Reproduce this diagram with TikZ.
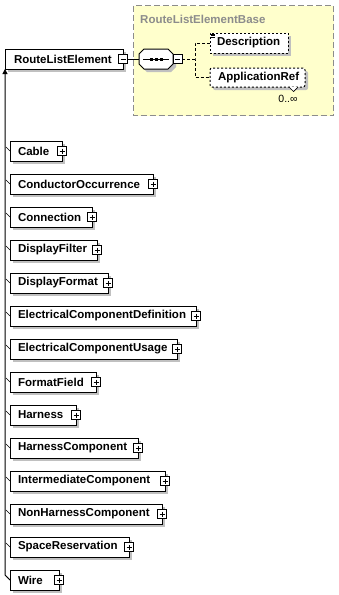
\documentclass[tikz,border=0pt]{standalone}
\usepackage{fontspec}
\setmainfont{Liberation Sans}
\usetikzlibrary{shadows,arrows.meta}
\definecolor{shadowgray}{RGB}{192,192,192}
\definecolor{basefill}{RGB}{255,255,204}
\definecolor{basegray}{RGB}{140,140,140}
\definecolor{titlegray}{RGB}{140,140,140}
\begin{document}
\begin{tikzpicture}[x=1pt,y=-1pt,
  every node/.style={font=\fontsize{11.5}{13}\selectfont\bfseries},
  shad/.style={drop shadow={shadow xshift=3pt,shadow yshift=-3pt,fill=shadowgray,opacity=1}},
  box/.style={draw=black,line width=1pt,fill=white,minimum height=20pt,inner xsep=8pt,inner ysep=0pt,outer sep=0pt,align=left,shad},
  dbox/.style={box,dash pattern=on 2pt off 2pt},
  pm/.style={draw=black,line width=0.8pt,fill=white,minimum size=9pt,inner sep=0pt,outer sep=0pt},
  sign/.style={line width=0.8pt},
  link/.style={line width=1pt},
  dlink/.style={line width=1pt,dash pattern=on 3pt off 2pt}
]
\useasboundingbox (0,0) rectangle (339,595);

% base type area
\draw[basegray,fill=basefill,line width=1pt,dash pattern=on 6pt off 3pt] (133.5,5.5) rectangle (333.5,115.5);
\node[anchor=west,text=titlegray,inner sep=0pt] (basetitle) at (140,19) {RouteListElementBase};

% root element
\node[box,anchor=west,inner xsep=9pt,text width=100pt] (rle) at (5,59) {RouteListElement};
\node[pm] (rlem) at (rle.east) {};
\draw[sign] ([xshift=2pt]rlem.west) -- ([xshift=-2pt]rlem.east);

% sequence compositor
\node[minimum width=34pt,minimum height=20pt,inner sep=0pt,outer sep=0pt] (seq) at (156,59) {};
\fill[shadowgray] (142,52) -- (147,52) -- (171,52) -- (176,57) -- (176,67) -- (171,72) -- (147,72) -- (142,67) -- cycle;
\draw[line width=1pt,fill=white] (139,54) -- (144,49) -- (168,49) -- (173,54) -- (173,64) -- (168,69) -- (144,69) -- (139,64) -- cycle;
\draw[line width=1pt] (143,59) -- (169,59);
\foreach \sx in {151,156,161} \fill (\sx-1.5,57.5) rectangle (\sx+1.5,60.5);
\node[pm,anchor=west] (seqm) at (seq.east) {};
\draw[sign] ([xshift=2pt]seqm.west) -- ([xshift=-2pt]seqm.east);
\draw[link] (rlem.east) -- (seq.west);

% children of sequence
\node[dbox,anchor=west,inner xsep=7pt,text width=64pt] (desc) at (210,43) {Description};
\foreach \dy in {1,2.5,4} \draw[line width=0.6pt] (211,33+\dy) -- (215,33+\dy);
\node[dbox,anchor=west,rounded corners=2pt,minimum height=19pt,text width=79pt] (app) at (210,77.5) {ApplicationRef};
\draw[line width=0.7pt,fill=white] (289,87) -- (293.5,91.5) -- (298,87);
\node[font=\fontsize{10.5}{12}\selectfont,inner sep=0pt] (occ) at (288,99) {0..∞};
\coordinate (br) at (195,59);
\draw[dlink] (seqm.east) -- (br);
\draw[dlink] (desc.west) -| (br) |- (app.west);

% derived types
\foreach \nm/\lab/\R [count=\i from 0] in {
  cable/Cable/62,
  condocc/ConductorOccurrence/153,
  conn/Connection/92,
  dfilter/DisplayFilter/97,
  dformat/DisplayFormat/108,
  ecdef/ElectricalComponentDefinition/196,
  ecuse/ElectricalComponentUsage/177,
  ffield/FormatField/96,
  harness/Harness/76,
  hcomp/HarnessComponent/138,
  icomp/IntermediateComponent/165,
  nhcomp/NonHarnessComponent/162,
  spres/SpaceReservation/129,
  wire/Wire/59} {
  \pgfmathsetmacro\tw{\R-26}
  \pgfmathsetmacro\cy{151+33*\i}
  \node[box,anchor=west,text width=\tw pt] (\nm) at (10,\cy) {\lab};
  \node[pm] (\nm-p) at (\nm.east) {};
  \draw[sign] ([xshift=2pt]\nm-p.west) -- ([xshift=-2pt]\nm-p.east);
  \draw[sign] ([yshift=-2pt]\nm-p.north) -- ([yshift=2pt]\nm-p.south);
  \draw[line width=0.6pt] (\nm.west) -- ++(-4,-4);
}
\draw[link,-{Triangle[width=5pt,length=5pt]}] (wire.west) -- ++(-5,-5) -- (rle.south west);
\end{tikzpicture}
\end{document}
